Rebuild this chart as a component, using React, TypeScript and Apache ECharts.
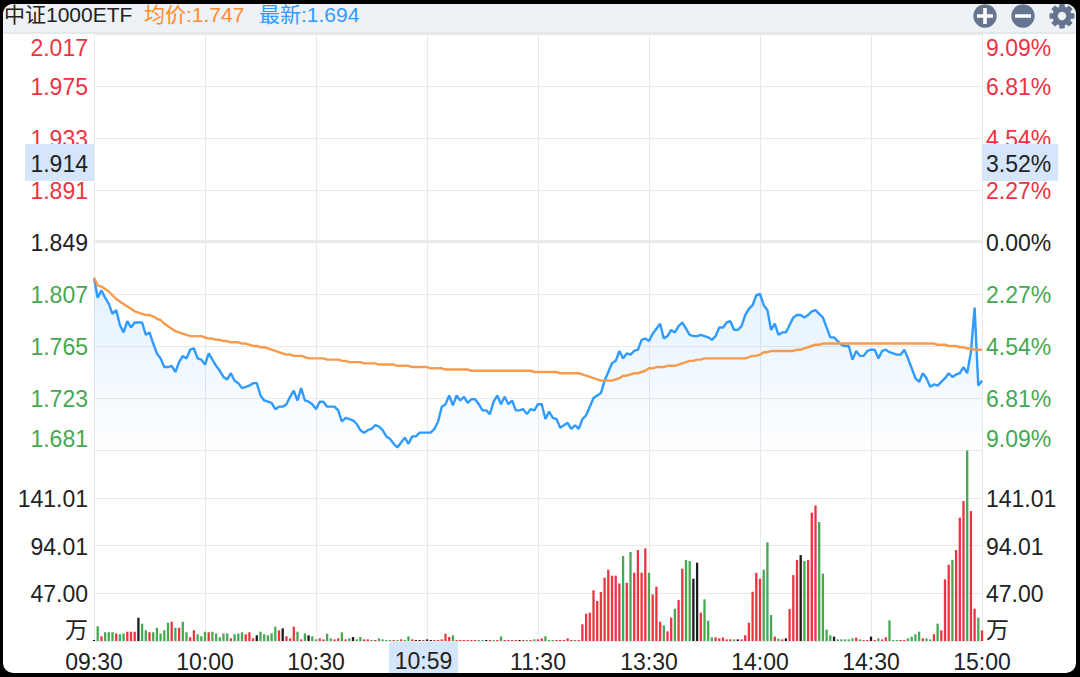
import React, { useEffect, useRef } from "react";
import * as echarts from "echarts";

const priceTicks = [1.681, 1.723, 1.765, 1.807, 1.849, 1.891, 1.933, 1.975, 2.017];
const pctLabels = ["9.09%", "6.81%", "4.54%", "2.27%", "0.00%", "2.27%", "4.54%", "6.81%", "9.09%"];
const volTicks = [0, 47, 94.01, 141.01];
// index 3 is the crosshair's time, drawn by hand on its highlight
const timeTicks = ["09:30", "10:00", "10:30", "", "11:30", "13:30", "14:00", "14:30", "15:00"];

const lastPrice = [
  1.820, 1.804, 1.810, 1.804, 1.799, 1.791, 1.794, 1.782, 1.776, 1.785,
  1.780, 1.784, 1.784, 1.784, 1.774, 1.776, 1.767, 1.759, 1.755, 1.748,
  1.748, 1.749, 1.744, 1.752, 1.757, 1.755, 1.762, 1.763, 1.755, 1.754,
  1.750, 1.759, 1.754, 1.749, 1.745, 1.740, 1.738, 1.743, 1.737, 1.735,
  1.731, 1.732, 1.733, 1.735, 1.735, 1.725, 1.721, 1.720, 1.719, 1.714,
  1.716, 1.716, 1.718, 1.724, 1.729, 1.721, 1.731, 1.721, 1.720, 1.718,
  1.714, 1.720, 1.720, 1.716, 1.716, 1.716, 1.713, 1.704, 1.707, 1.706,
  1.705, 1.702, 1.697, 1.695, 1.697, 1.698, 1.701, 1.700, 1.697, 1.692,
  1.690, 1.686, 1.683, 1.687, 1.691, 1.686, 1.692, 1.692, 1.695, 1.695,
  1.695, 1.695, 1.698, 1.704, 1.716, 1.718, 1.725, 1.717, 1.725, 1.721,
  1.724, 1.719, 1.722, 1.722, 1.718, 1.713, 1.713, 1.710, 1.720, 1.725,
  1.718, 1.724, 1.718, 1.721, 1.713, 1.713, 1.714, 1.710, 1.714, 1.713,
  1.718, 1.718, 1.706, 1.712, 1.707, 1.706, 1.699, 1.701, 1.703, 1.698,
  1.701, 1.698, 1.706, 1.709, 1.716, 1.723, 1.725, 1.727, 1.737, 1.744,
  1.751, 1.753, 1.761, 1.755, 1.759, 1.758, 1.761, 1.762, 1.770, 1.771,
  1.769, 1.775, 1.779, 1.783, 1.771, 1.773, 1.778, 1.776, 1.781, 1.784,
  1.779, 1.774, 1.773, 1.773, 1.774, 1.773, 1.772, 1.770, 1.773, 1.780,
  1.780, 1.784, 1.785, 1.778, 1.778, 1.781, 1.790, 1.795, 1.798, 1.806,
  1.807, 1.798, 1.794, 1.778, 1.783, 1.774, 1.776, 1.776, 1.782, 1.788,
  1.790, 1.790, 1.788, 1.790, 1.793, 1.794, 1.791, 1.788, 1.780, 1.772,
  1.772, 1.769, 1.766, 1.765, 1.765, 1.754, 1.761, 1.757, 1.757, 1.761,
  1.762, 1.762, 1.755, 1.761, 1.762, 1.760, 1.759, 1.758, 1.758, 1.762,
  1.755, 1.747, 1.739, 1.736, 1.743, 1.739, 1.732, 1.734, 1.733, 1.736,
  1.739, 1.743, 1.740, 1.742, 1.743, 1.748, 1.743, 1.760, 1.796, 1.733, 1.737,
];

const avgPrice = [
  1.820, 1.814, 1.813, 1.811, 1.809, 1.806, 1.803, 1.801, 1.799, 1.797,
  1.795, 1.793, 1.792, 1.791, 1.790, 1.790, 1.789, 1.787, 1.786, 1.783,
  1.781, 1.779, 1.777, 1.776, 1.775, 1.774, 1.773, 1.773, 1.773, 1.773,
  1.772, 1.771, 1.771, 1.770, 1.770, 1.769, 1.769, 1.768, 1.768, 1.768,
  1.767, 1.767, 1.766, 1.765, 1.765, 1.764, 1.764, 1.763, 1.762, 1.761,
  1.760, 1.759, 1.758, 1.758, 1.757, 1.757, 1.757, 1.756, 1.755, 1.755,
  1.755, 1.755, 1.755, 1.754, 1.754, 1.754, 1.754, 1.753, 1.753, 1.752,
  1.752, 1.752, 1.752, 1.751, 1.751, 1.751, 1.751, 1.750, 1.750, 1.750,
  1.750, 1.750, 1.749, 1.749, 1.749, 1.749, 1.748, 1.748, 1.748, 1.748,
  1.748, 1.747, 1.747, 1.747, 1.747, 1.746, 1.746, 1.746, 1.746, 1.746,
  1.746, 1.746, 1.745, 1.745, 1.745, 1.745, 1.745, 1.745, 1.745, 1.745,
  1.745, 1.745, 1.745, 1.745, 1.745, 1.745, 1.745, 1.745, 1.745, 1.744,
  1.744, 1.744, 1.744, 1.744, 1.744, 1.744, 1.743, 1.743, 1.743, 1.743,
  1.743, 1.743, 1.742, 1.741, 1.740, 1.739, 1.738, 1.737, 1.737, 1.737,
  1.737, 1.738, 1.739, 1.741, 1.741, 1.742, 1.743, 1.743, 1.744, 1.745,
  1.747, 1.747, 1.748, 1.748, 1.748, 1.749, 1.749, 1.749, 1.750, 1.751,
  1.752, 1.753, 1.753, 1.754, 1.754, 1.755, 1.755, 1.755, 1.755, 1.755,
  1.755, 1.755, 1.755, 1.755, 1.755, 1.755, 1.755, 1.756, 1.757, 1.757,
  1.758, 1.760, 1.760, 1.761, 1.761, 1.761, 1.761, 1.761, 1.761, 1.761,
  1.762, 1.762, 1.763, 1.764, 1.765, 1.766, 1.766, 1.767, 1.767, 1.767,
  1.767, 1.767, 1.767, 1.767, 1.767, 1.767, 1.767, 1.767, 1.767, 1.767,
  1.767, 1.767, 1.767, 1.767, 1.767, 1.767, 1.767, 1.767, 1.767, 1.767,
  1.767, 1.767, 1.767, 1.767, 1.767, 1.767, 1.767, 1.767, 1.766, 1.766,
  1.766, 1.765, 1.765, 1.765, 1.764, 1.764, 1.763, 1.763, 1.762, 1.762, 1.762,
];

const volumes = [
  1.0, 14.4, 4.6, 8.5, 8.5, 8.5, 7.5, 6.6, 7.5, 9.2,
  9.2, 9.2, 23.0, 17.1, 10.5, 8.5, 8.5, 13.1, 7.5, 10.5,
  18.0, 19.0, 13.1, 13.1, 19.0, 8.5, 3.6, 10.5, 6.6, 4.6,
  9.2, 8.5, 9.2, 7.5, 3.6, 7.5, 7.5, 2.6, 6.6, 7.5,
  8.5, 6.6, 8.5, 2.6, 5.6, 9.2, 6.6, 5.6, 7.5, 14.1,
  10.5, 12.5, 4.6, 2.6, 14.1, 9.2, 1.6, 7.5, 5.6, 4.6,
  1.6, 2.6, 1.6, 7.2, 2.6, 1.6, 2.6, 8.5, 1.6, 2.6,
  3.9, 1.6, 3.9, 1.6, 1.6, 1.0, 1.0, 2.6, 1.6, 1.0,
  1.0, 1.0, 1.0, 1.6, 1.0, 4.6, 1.6, 1.0, 1.0, 1.0,
  1.6, 1.0, 1.0, 1.0, 1.6, 7.2, 3.9, 5.6, 1.0, 1.0,
  1.0, 1.0, 1.0, 1.0, 1.0, 1.0, 1.0, 1.0, 1.0, 1.0,
  4.6, 1.0, 1.0, 1.0, 1.0, 1.0, 1.0, 1.0, 1.0, 1.6,
  1.6, 2.6, 4.6, 1.0, 1.0, 1.0, 1.0, 1.0, 2.6, 1.0,
  1.0, 1.0, 16.4, 26.9, 27.9, 49.9, 39.4, 48.2, 62.3, 70.2,
  64.3, 64.3, 56.7, 83.6, 57.4, 87.6, 67.2, 89.5, 67.2, 91.2,
  67.2, 45.9, 53.5, 19.0, 15.4, 9.5, 23.0, 31.8, 40.3, 71.2,
  79.7, 78.7, 61.3, 77.1, 27.9, 41.0, 20.0, 3.6, 3.6, 2.6,
  3.6, 1.6, 1.6, 1.6, 1.6, 1.6, 5.6, 18.0, 48.5, 67.2,
  61.3, 70.2, 97.1, 25.6, 4.3, 2.3, 1.6, 2.6, 31.5, 64.9,
  79.7, 84.6, 78.7, 79.7, 126.3, 133.5, 117.1, 66.3, 11.2, 5.6,
  4.3, 1.6, 1.6, 1.6, 1.6, 2.6, 3.3, 1.6, 1.0, 1.0,
  4.3, 1.0, 2.6, 1.6, 3.6, 20.3, 1.0, 1.0, 1.0, 1.0,
  2.6, 4.3, 6.6, 9.2, 2.6, 2.6, 1.6, 6.6, 17.1, 10.5,
  60.7, 75.1, 79.7, 89.5, 121.4, 137.8, 187.6, 127.9, 31.8, 23.0, 10.5,
];

// u = up (red), d = down (green), f = flat (black)
const directions = [
  "fduddduddu", "uufddudddd", "dududduudd", "dudddddudd",
  "duuufddddd", "ufuuududfd", "duudduudud", "fdduududdd",
  "dududduffu", "ffuuuuuduu", "uuuuddfudu", "duuuufudud",
  "uuddduuuuu", "duuuuuuuuu", "uuududuuuu", "duuuduuduu",
  "ddffuddduu", "uuudfuuuuu", "udddudufuu", "ufduuudddd",
  "fddddduduu", "fuduuddduu", "dddduddudu", "uuduuuduudu",
].join("").split("");

const RED = "#ee3340";
const GREEN = "#46a851";
const DARK = "#222222";
const BLUE = "#2f9bff";
const ORANGE = "#f79a4c";
const HIGHLIGHT = "#d5e6fb";
const GRID = "#e9e9ec";
const FONT = '"Liberation Sans", "Noto Sans CJK SC", sans-serif';
const ICON = "#66758f";

// rich tokens, so a little top padding can nudge the text below its gridline
const labelToken = (color: string) => ({
  color,
  fontSize: 23,
  fontFamily: FONT,
  padding: [2, 0, 0, 0],
});
const labelRich = { r: labelToken(RED), g: labelToken(GREEN), k: labelToken(DARK) };

const priceToken = (v: number) => {
  if (Math.abs(v - 1.849) < 0.0001) return "k";
  return v > 1.849 ? "r" : "g";
};

const barColor = (d: string) => (d === "u" ? RED : d === "d" ? GREEN : "#1c1c1c");

const gearTeeth = [0, 45, 90, 135, 180, 225, 270, 315].map((deg) => ({
  type: "rect",
  x: 1062,
  y: 16,
  rotation: (deg * Math.PI) / 180,
  shape: { x: -2.8, y: -12.5, width: 5.6, height: 6, r: 1 },
  style: { fill: ICON },
  z: 5,
}));

const App: React.FC = () => {
  const chartRef = useRef<HTMLDivElement>(null);

  useEffect(() => {
    if (!chartRef.current) return;
    document.body.style.margin = "0";
    const chart = echarts.init(chartRef.current, undefined, { renderer: "svg" });

    const headerText = (x: number, text: string, fill: string) => ({
      type: "text",
      x,
      y: 14,
      z: 5,
      style: { text, fill, font: `21px ${FONT}`, verticalAlign: "middle" },
    });

    const volLabel = (v: number) => `{k|${v === 0 ? "万" : v.toFixed(2)}}`;

    const option: any = {
      animation: false,
      backgroundColor: "transparent",
      textStyle: { fontFamily: FONT },
      grid: [
        { left: 94, right: 98, top: 34, height: 416 },
        { left: 94, right: 98, top: 450, height: 191 },
      ],
      xAxis: [
        {
          type: "value",
          gridIndex: 0,
          min: 0,
          max: 240,
          interval: 30,
          axisLine: { show: false },
          axisTick: { show: false },
          axisLabel: { show: false },
          splitLine: { show: true, lineStyle: { color: GRID, width: 1 } },
        },
        {
          type: "value",
          gridIndex: 1,
          min: 0,
          max: 240,
          interval: 30,
          axisLine: { show: false },
          axisTick: { show: false },
          axisLabel: {
            margin: 9,
            fontSize: 23,
            color: DARK,
            fontFamily: FONT,
            hideOverlap: false,
            showMinLabel: true,
            showMaxLabel: true,
            formatter: (v: number) => timeTicks[Math.round(v / 30)],
          },
          splitLine: { show: true, lineStyle: { color: GRID, width: 1 } },
        },
      ],
      yAxis: [
        {
          type: "value",
          gridIndex: 0,
          min: 1.681,
          max: 2.017,
          axisLine: { show: false },
          axisTick: { show: false, customValues: priceTicks },
          axisLabel: {
            customValues: priceTicks,
            margin: 6,
            rich: labelRich,
            verticalAlignMinLabel: "bottom",
            verticalAlignMaxLabel: "top",
            formatter: (v: number) => `{${priceToken(v)}|${v.toFixed(3)}}`,
          },
          splitLine: { show: true, lineStyle: { color: GRID, width: 1 } },
        },
        {
          type: "value",
          gridIndex: 0,
          position: "right",
          min: 1.681,
          max: 2.017,
          axisLine: { show: false },
          axisTick: { show: false, customValues: priceTicks },
          axisLabel: {
            customValues: priceTicks,
            margin: 4,
            rich: labelRich,
            verticalAlignMinLabel: "bottom",
            verticalAlignMaxLabel: "top",
            formatter: (v: number) =>
              `{${priceToken(v)}|${pctLabels[priceTicks.findIndex((t) => Math.abs(t - v) < 0.0001)]}}`,
          },
          splitLine: { show: false },
        },
        {
          type: "value",
          gridIndex: 1,
          min: 0,
          max: 188.02,
          axisLine: { show: false },
          axisTick: { show: false, customValues: volTicks },
          axisLabel: {
            customValues: volTicks,
            margin: 6,
            rich: labelRich,
            verticalAlignMinLabel: "bottom",
            formatter: volLabel,
          },
          splitLine: { show: true, lineStyle: { color: GRID, width: 1 } },
        },
        {
          type: "value",
          gridIndex: 1,
          position: "right",
          min: 0,
          max: 188.02,
          axisLine: { show: false },
          axisTick: { show: false, customValues: volTicks },
          axisLabel: {
            customValues: volTicks,
            margin: 4,
            rich: labelRich,
            verticalAlignMinLabel: "bottom",
            formatter: volLabel,
          },
          splitLine: { show: false },
        },
      ],
      series: [
        {
          name: "最新",
          type: "line",
          xAxisIndex: 0,
          yAxisIndex: 0,
          data: lastPrice.map((v, i) => [i, v]),
          symbol: "none",
          lineStyle: { color: BLUE, width: 2.4 },
          areaStyle: {
            origin: "start",
            color: new echarts.graphic.LinearGradient(0, 0, 0, 1, [
              { offset: 0, color: "rgba(47,155,255,0.2)" },
              { offset: 1, color: "rgba(47,155,255,0.01)" },
            ]),
          },
          z: 2,
          markLine: {
            silent: true,
            symbol: "none",
            label: { show: false },
            lineStyle: { color: "#e6e6e9", width: 1.6, type: "solid" },
            data: [{ yAxis: 1.849 }],
          },
        },
        {
          name: "均价",
          type: "line",
          xAxisIndex: 0,
          yAxisIndex: 0,
          data: avgPrice.map((v, i) => [i, v]),
          symbol: "none",
          lineStyle: { color: ORANGE, width: 2.4 },
          z: 3,
        },
        {
          name: "成交量",
          type: "bar",
          xAxisIndex: 1,
          yAxisIndex: 2,
          barWidth: 2.3,
          data: volumes.map((v, i) => ({
            value: [i, v],
            itemStyle: { color: barColor(directions[i]) },
          })),
        },
      ],
      graphic: [
        { type: "rect", x: 0, y: 0, z: -1, shape: { width: 1080, height: 33 }, style: { fill: "#eef2f7" } },
        { type: "rect", x: 0, y: 32, z: -1, shape: { width: 1080, height: 2 }, style: { fill: "#e6e7ea" } },
        { type: "rect", x: 389, y: 642, z: -1, shape: { width: 69, height: 32 }, style: { fill: HIGHLIGHT } },
        {
          type: "text",
          x: 423.5,
          y: 661,
          z: 11,
          style: { text: "10:59", fill: DARK, font: `23px ${FONT}`, align: "center", verticalAlign: "middle" },
        },
        headerText(4, "中证1000ETF", DARK),
        headerText(144, "均价:1.747", "#ff8c2a"),
        headerText(259, "最新:1.694", BLUE),
        { type: "circle", x: 985, y: 16, z: 5, shape: { r: 11.7 }, style: { fill: ICON } },
        { type: "rect", x: 977, y: 14.2, z: 6, shape: { width: 16, height: 3.6 }, style: { fill: "#fff" } },
        { type: "rect", x: 983.2, y: 8, z: 6, shape: { width: 3.6, height: 16 }, style: { fill: "#fff" } },
        { type: "circle", x: 1023, y: 16, z: 5, shape: { r: 11.7 }, style: { fill: ICON } },
        { type: "rect", x: 1015, y: 14.2, z: 6, shape: { width: 16, height: 3.6 }, style: { fill: "#fff" } },
        { type: "ring", x: 1062, y: 16, z: 5, shape: { r: 9.5, r0: 4.2 }, style: { fill: ICON } },
        ...gearTeeth,
        { type: "rect", x: 25, y: 144, z: 10, shape: { width: 69, height: 37 }, style: { fill: HIGHLIGHT } },
        {
          type: "text",
          x: 88,
          y: 164,
          z: 11,
          style: { text: "1.914", fill: DARK, font: `23px ${FONT}`, align: "right", verticalAlign: "middle" },
        },
        { type: "rect", x: 982, y: 144, z: 10, shape: { width: 76, height: 37 }, style: { fill: HIGHLIGHT } },
        {
          type: "text",
          x: 986,
          y: 164,
          z: 11,
          style: { text: "3.52%", fill: DARK, font: `23px ${FONT}`, align: "left", verticalAlign: "middle" },
        },
      ],
    };

    chart.setOption(option);
    return () => chart.dispose();
  }, []);

  return (
    <div style={{ position: "fixed", left: 0, top: 0, width: 1080, height: 677, background: "#000", overflow: "hidden" }}>
      <div
        style={{
          position: "absolute",
          left: 3,
          top: 4,
          width: 1073,
          height: 669,
          background: "#fff",
          borderRadius: 10,
          overflow: "hidden",
        }}
      >
        <div ref={chartRef} style={{ position: "absolute", left: -3, top: -4, width: 1080, height: 677 }} />
      </div>
    </div>
  );
};

export default App;
